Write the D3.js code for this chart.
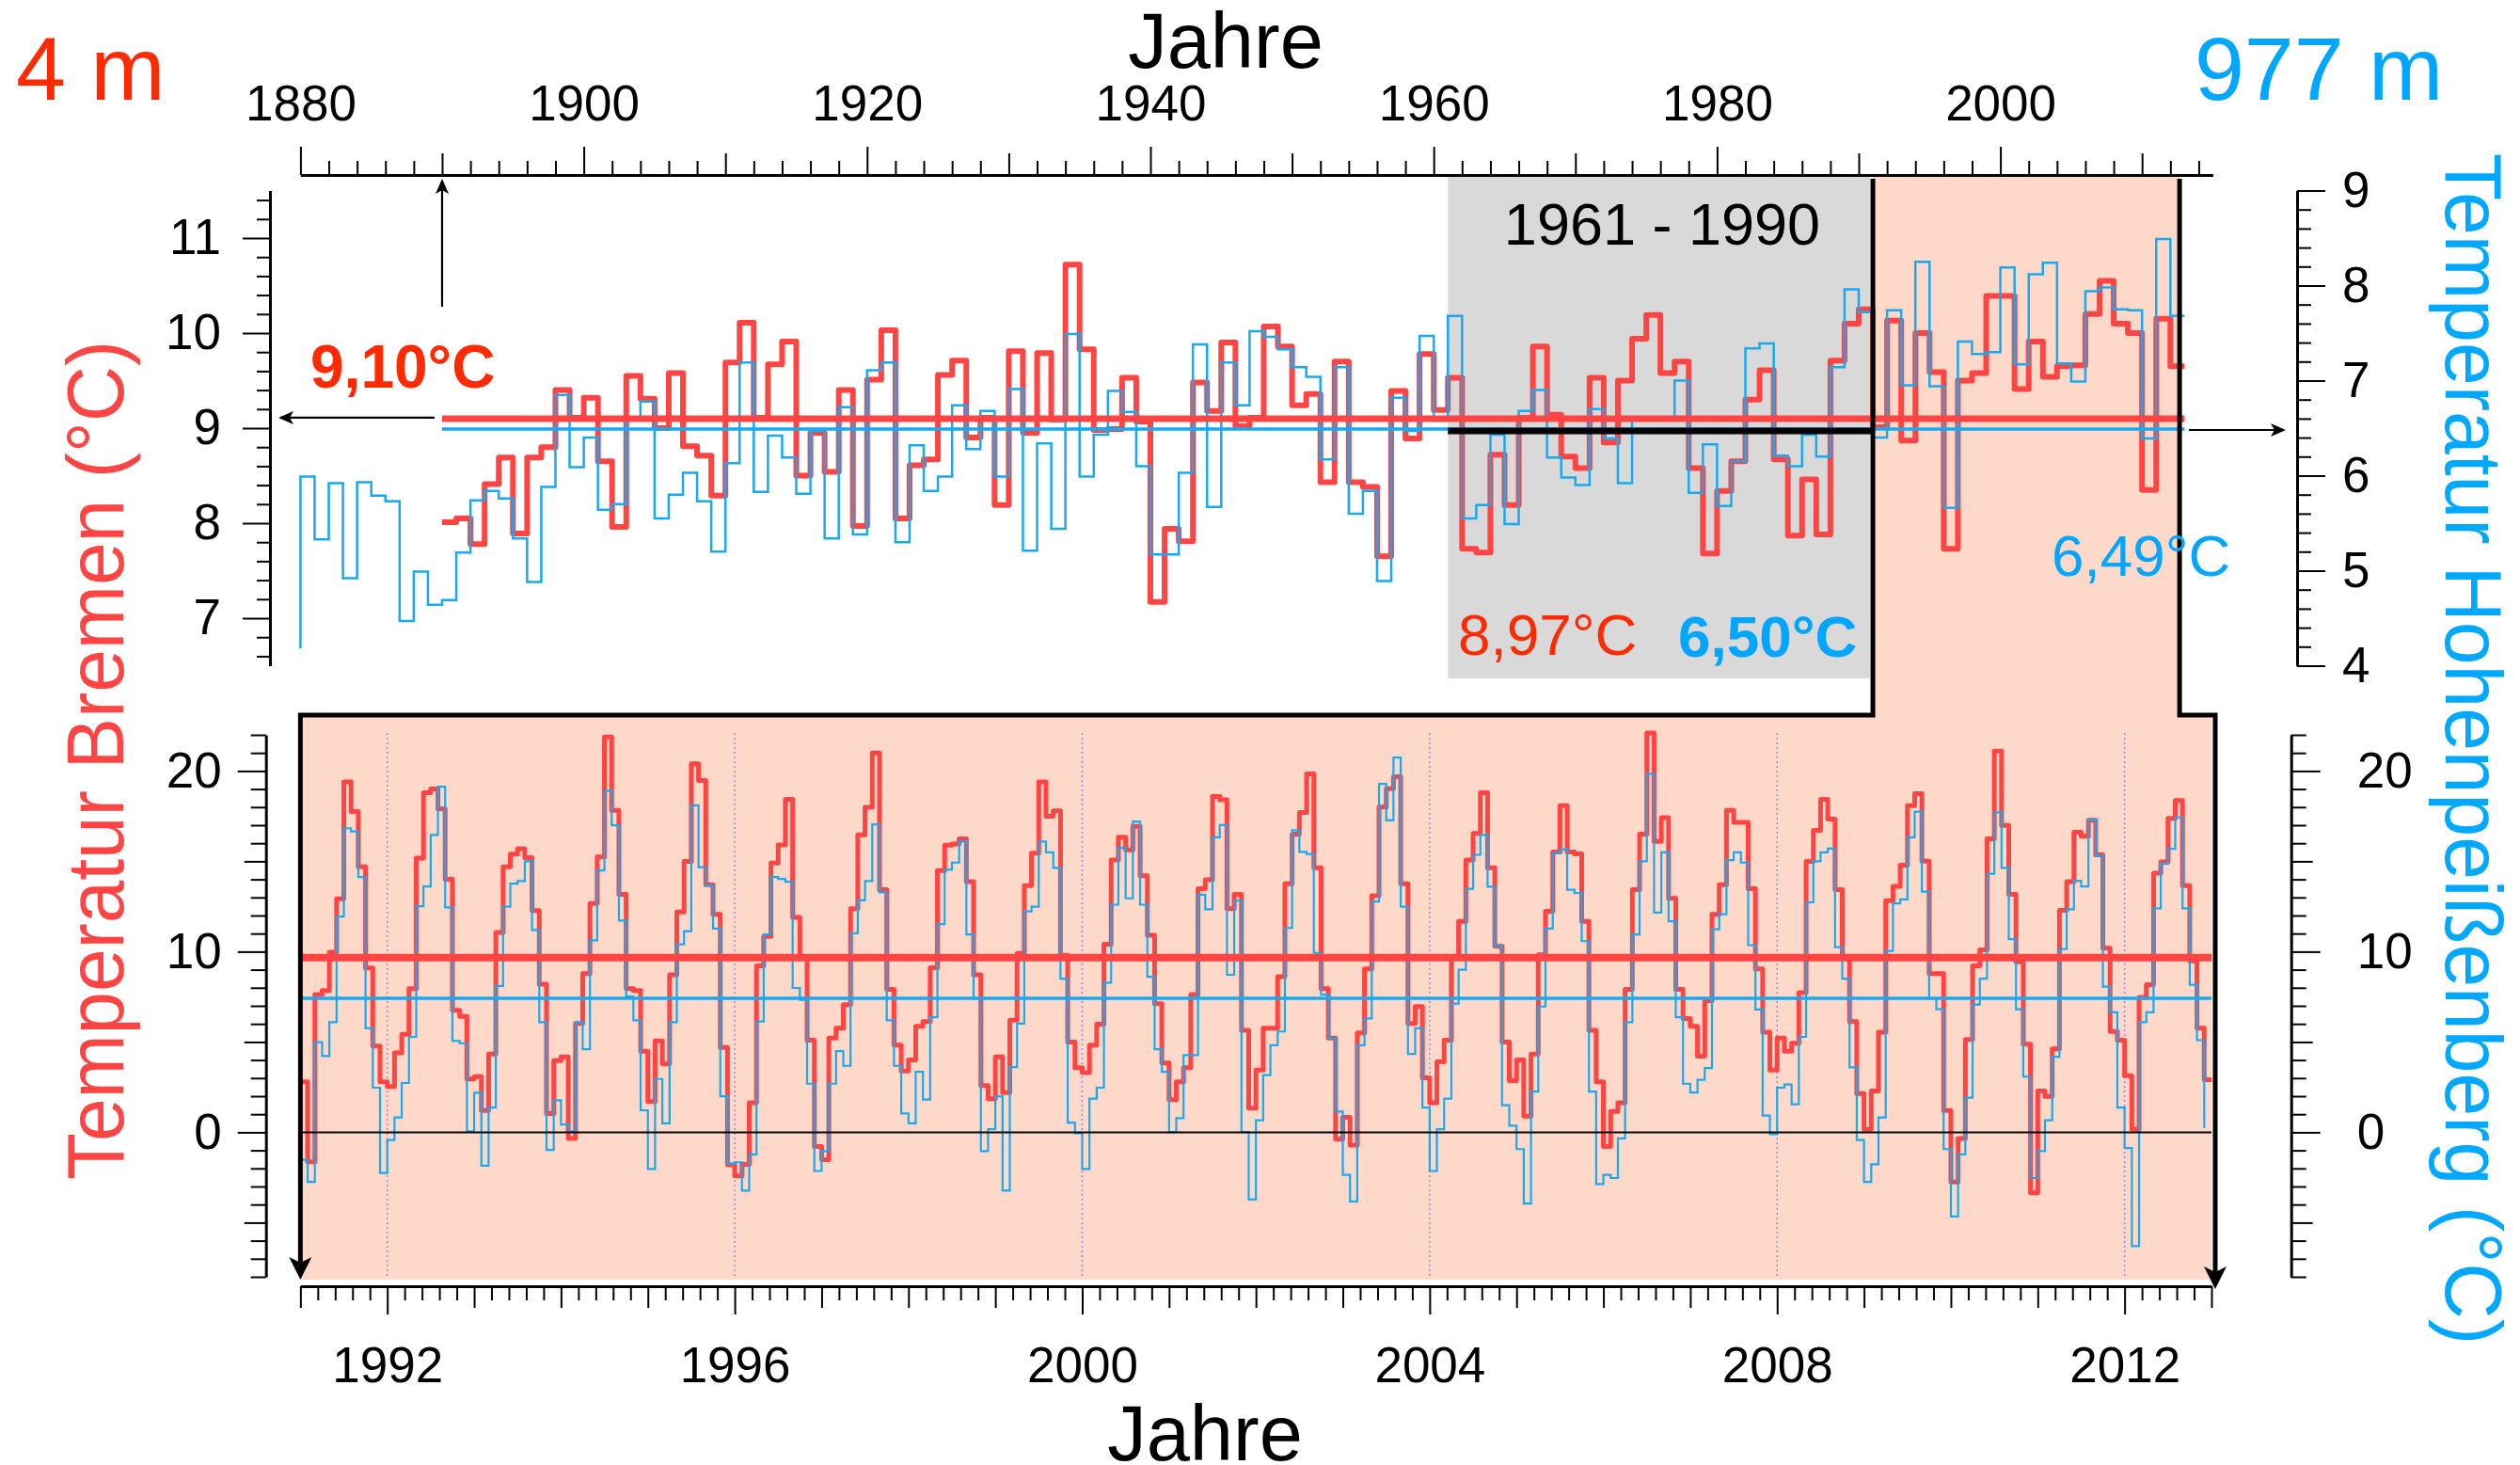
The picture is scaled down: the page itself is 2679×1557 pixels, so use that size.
<!DOCTYPE html>
<html>
<head>
<meta charset="utf-8">
<script src="https://cdn.jsdelivr.net/npm/d3@7"></script>
<style>
body { margin: 0; background: #fff; }
svg { display: block; font-family: "Liberation Sans", Arial, Helvetica, sans-serif; }
</style>
</head>
<body>
<svg id="chart" width="2679" height="1557"></svg>
<script>
// annual means, Bremen from 1890, Hohenpeissenberg from 1880
const bremenFirstYear = 1890;
const bremenAnnual = [
  8.01, 8.05, 7.78, 8.41, 8.69, 7.89, 8.69, 8.80, 9.40, 9.11,
  9.32, 8.65, 7.96, 9.55, 9.31, 9.00, 9.58, 8.81, 8.71, 8.29,
  9.69, 10.11, 9.11, 9.67, 9.91, 8.50, 8.95, 8.54, 9.40, 7.97,
  9.51, 10.03, 8.05, 8.61, 8.67, 9.56, 9.71, 8.90, 9.11, 8.19,
  9.81, 8.95, 9.79, 9.09, 10.72, 9.83, 8.98, 8.99, 9.53, 9.07,
  7.17, 7.94, 7.81, 9.48, 9.18, 9.90, 9.02, 9.11, 10.07, 9.86,
  9.24, 9.36, 8.43, 9.70, 8.43, 8.38, 7.65, 9.39, 8.89, 9.78,
  9.19, 9.53, 7.73, 7.69, 8.72, 8.19, 9.11, 9.86, 9.14, 8.70,
  8.58, 9.53, 8.85, 9.50, 9.94, 10.19, 9.58, 9.70, 8.58, 7.68,
  8.34, 8.65, 9.30, 9.61, 8.67, 7.87, 8.46, 7.88, 9.71, 10.10,
  10.25, 9.01, 10.13, 8.87, 10.00, 9.59, 7.73, 9.50, 9.58, 10.39,
  10.39, 9.41, 9.91, 9.54, 9.65, 9.66, 10.20, 10.55, 10.10, 10.00,
  8.35, 10.15, 9.65
];
const hohenFirstYear = 1880;
const hohenLead = 4.18;
const hohenAnnual = [
  5.99, 5.33, 5.92, 4.92, 5.93, 5.79, 5.73, 4.47, 4.99, 4.64,
  4.69, 5.19, 5.74, 5.84, 5.76, 5.34, 4.88, 5.88, 6.85, 6.09,
  6.40, 5.64, 5.70, 6.60, 6.78, 5.55, 5.80, 6.03, 5.73, 5.20,
  6.13, 7.19, 5.83, 6.42, 6.19, 5.81, 6.47, 5.34, 6.72, 5.38,
  7.11, 7.19, 5.30, 6.32, 5.84, 5.99, 6.74, 6.28, 6.68, 5.99,
  6.91, 5.21, 6.34, 5.44, 7.49, 5.99, 6.43, 6.89, 6.67, 6.10,
  5.17, 5.17, 6.03, 7.38, 5.67, 7.19, 6.74, 7.52, 7.46, 7.33,
  7.14, 7.04, 6.17, 7.14, 5.60, 5.84, 4.89, 6.82, 6.47, 7.47,
  6.58, 7.68, 5.55, 5.69, 6.43, 5.49, 6.68, 6.90, 6.19, 5.98,
  5.90, 6.70, 6.39, 5.92, 6.61, 6.61, 6.60, 7.00, 5.82, 6.33,
  5.68, 6.15, 7.34, 7.39, 6.21, 6.10, 6.43, 6.20, 7.14, 7.96,
  7.72, 6.40, 7.74, 6.95, 8.25, 6.94, 5.66, 7.41, 7.28, 7.30,
  8.19, 7.17, 8.12, 8.24, 7.18, 6.99, 7.94, 7.98, 7.75, 7.74,
  6.39, 8.49, 7.68
];

// monthly means 1991-2012
const monthFirstYear = 1991;
const bremenMonthly = [
  2.8, -1.63, 7.62, 7.84, 9.97, 12.93, 19.4, 17.76, 14.7, 9.1, 4.77, 2.8,
  2.54, 4.4, 5.43, 7.95, 15.18, 18.8, 19.0, 17.9, 14.0, 6.75, 6.42, 2.95,
  3.08, 1.2, 4.33, 11.06, 14.7, 15.4, 15.7, 15.2, 12.27, 8.2, 1.04, 3.96,
  4.18, -0.34, 6.02, 8.78, 12.67, 15.24, 21.88, 17.82, 13.17, 7.95, 7.84, 4.49,
  1.7, 5.06, 3.79, 8.72, 12.2, 15.0, 20.4, 19.47, 13.7, 12.07, 4.7, -1.8,
  -2.42, -1.77, 1.64, 9.22, 10.84, 14.9, 15.9, 18.43, 11.9, 9.7, 5.1, -0.78,
  -1.52, 5.21, 5.76, 7.07, 12.38, 16.46, 17.99, 21.0, 13.43, 7.91, 4.82, 3.39,
  4.0, 5.87, 6.13, 9.11, 14.49, 15.89, 15.96, 16.24, 13.87, 8.72, 2.58, 1.86,
  4.18, 2.2, 6.2, 9.9, 13.65, 15.45, 19.4, 17.5, 17.8, 9.8, 5.0, 3.57,
  3.3, 4.82, 5.98, 10.41, 15.07, 16.33, 15.63, 16.94, 14.2, 10.91, 7.12, 3.83,
  1.81, 2.8, 3.57, 7.62, 13.48, 13.98, 18.59, 18.41, 12.38, 13.17, 5.65, 1.33,
  3.45, 5.76, 5.76, 8.61, 13.76, 16.5, 17.7, 19.84, 14.64, 7.95, 5.21, -0.38,
  0.83, -0.71, 5.5, 9.05, 13.1, 18.0, 19.02, 19.68, 13.76, 6.02, 6.96, 3.02,
  1.64, 3.9, 5.1, 9.7, 11.68, 15.07, 16.55, 18.8, 14.64, 10.3, 4.99, 2.86,
  4.0, 0.89, 4.33, 9.82, 12.23, 15.52, 18.08, 15.52, 15.41, 11.68, 5.65, 2.8,
  -0.78, 1.15, 1.64, 7.91, 13.43, 16.5, 22.1, 16.1, 17.42, 12.95, 7.91, 6.3,
  5.87, 4.22, 7.29, 12.07, 13.7, 17.82, 17.16, 17.16, 13.48, 9.05, 5.54, 3.45,
  5.21, 4.49, 4.93, 7.73, 15.0, 16.72, 18.43, 17.34, 13.43, 9.66, 6.13, 2.14,
  0.17, 2.29, 5.54, 12.82, 13.61, 14.79, 18.08, 18.74, 15.01, 8.78, 8.78, 1.2,
  -2.75, -0.34, 5.14, 9.22, 10.1, 16.24, 21.1, 16.99, 13.17, 9.44, 4.88, -3.35,
  2.29, 1.99, 4.62, 12.29, 13.87, 16.61, 16.39, 17.27, 15.36, 10.19, 5.58, 5.1,
  3.13, 0.17, 7.47, 8.17, 14.35, 14.97, 17.38, 18.37, 13.65, 9.49, 5.76, 2.91
];
const hohenMonthly = [
  -1.52, -2.75, 4.99, 4.22, 6.09, 11.94, 16.83, 16.66, 14.13, 5.76, 2.47, -2.25,
  -0.43, 0.82, 2.73, 5.28, 12.51, 13.61, 16.46, 19.13, 12.45, 5.06, 4.93, 0.06,
  2.19, -1.85, 1.37, 8.1, 12.49, 13.76, 13.91, 15.0, 11.2, 6.09, -0.98, 1.77,
  0.43, 0.06, 6.09, 4.6, 10.63, 14.49, 18.91, 16.99, 11.72, 7.51, 6.2, 1.22,
  -2.03, 2.95, 0.5, 6.09, 10.41, 11.13, 18.1, 14.68, 13.65, 11.28, 1.99, -1.74,
  -1.66, -3.23, -1.22, 6.13, 10.95, 14.13, 14.02, 13.87, 7.99, 7.33, 2.69, -2.14,
  -1.04, 2.69, 4.49, 3.68, 11.02, 12.84, 13.91, 17.05, 13.28, 6.2, 3.68, 1.04,
  0.5, 3.35, 1.81, 6.37, 11.52, 14.53, 14.93, 16.1, 10.95, 7.4, -1.04, 0.17,
  1.99, -3.23, 3.61, 6.02, 12.23, 12.49, 16.1, 15.5, 14.64, 8.5, 0.54, -0.05,
  -2.03, 1.86, 2.47, 8.28, 12.6, 15.74, 12.95, 17.2, 12.6, 8.61, 4.6, 3.35,
  0.01, 0.78, 4.27, 4.27, 13.15, 12.34, 16.33, 17.01, 8.72, 12.82, 0.01, -3.72,
  0.67, 3.17, 4.82, 5.58, 11.31, 16.72, 15.52, 15.41, 9.93, 7.62, 5.21, 1.15,
  -2.36, -3.83, 4.82, 6.3, 12.77, 19.29, 17.27, 20.74, 12.49, 4.34, 5.76, 1.37,
  -2.14, 0.17, 1.86, 7.12, 9.0, 13.48, 15.36, 16.46, 13.6, 10.3, 1.5, 0.37,
  -0.93, -3.94, 2.25, 6.96, 11.28, 15.45, 15.67, 13.43, 13.25, 10.58, 2.25, -2.86,
  -2.36, -2.53, -0.34, 6.09, 10.95, 15.0, 19.84, 12.16, 15.5, 11.68, 6.37, 2.69,
  2.2, 2.9, 3.56, 11.24, 12.07, 15.07, 15.5, 14.93, 10.36, 6.8, 0.93, -0.1,
  2.47, 2.64, 1.55, 5.28, 12.73, 15.0, 15.5, 15.7, 10.25, 8.5, 3.6, -0.43,
  -2.75, -1.77, 0.82, 10.04, 12.67, 12.89, 16.33, 17.75, 13.32, 7.4, 6.81, -0.93,
  -4.66, -1.22, 1.92, 7.07, 8.5, 14.31, 17.71, 14.64, 10.69, 6.81, 3.08, -2.53,
  -1.04, 0.67, 4.18, 10.14, 12.34, 13.92, 13.61, 17.32, 15.3, 8.06, 6.64, 1.37,
  -0.87, -6.3, 6.09, 6.64, 12.4, 14.86, 15.69, 17.43, 12.4, 8.17, 5.1, 0.23
];

const bremenMean = 9.10, hohenMean = 6.49;
const bremenNormal = 8.97, hohenNormal = 6.50;
const bremenMeanRecent = 9.67, hohenMeanRecent = 7.42;
const normalPeriod = [1961, 1991];
const zoomPeriod = [1991, 2012.65];
const bottomMarkYears = [1992, 1996, 2000, 2004, 2008, 2012];

const red = "#ff4444", blue = "#18a9f0", redText = "#ff2a00", blueText = "#00a6ff";
const svg = d3.select("#chart");

const xTop = d3.scaleLinear().domain([1880, 2015]).range([319.4, 2352.5]);
const yBre = d3.scaleLinear().domain([6.5, 11.5]).range([707.5, 202.5]);
const yHoh = d3.scaleLinear().domain([4, 9]).range([707.5, 202.5]);
const xBot = d3.scaleLinear().domain([1991, 2013]).range([319.35, 2351]);
const yBot = d3.scaleLinear().domain([-8, 22]).range([1357, 781]);

const isInt = d => Math.abs(d - Math.round(d)) < 1e-6;

// arrow heads
const defs = svg.append("defs");
defs.append("marker").attr("id", "headBig")
  .attr("viewBox", "0 0 24 24").attr("refX", 14).attr("refY", 12)
  .attr("markerWidth", 24).attr("markerHeight", 24)
  .attr("markerUnits", "userSpaceOnUse").attr("orient", "auto-start-reverse")
  .append("path").attr("d", "M0,0 L24,12 L0,24 L6,12 Z").attr("fill", "#000");
defs.append("marker").attr("id", "headSmall")
  .attr("viewBox", "0 0 16 14").attr("refX", 14).attr("refY", 7)
  .attr("markerWidth", 16).attr("markerHeight", 14)
  .attr("markerUnits", "userSpaceOnUse").attr("orient", "auto")
  .append("path").attr("d", "M0,0 L16,7 L0,14 L4,7 Z").attr("fill", "#000");

// backgrounds
svg.append("rect")
  .attr("x", xTop(normalPeriod[0])).attr("y", 188)
  .attr("width", xTop(normalPeriod[1]) - xTop(normalPeriod[0]) - 3).attr("height", 533)
  .attr("fill", "#d9d9d9");
svg.append("rect")
  .attr("x", xTop(zoomPeriod[0])).attr("y", 188)
  .attr("width", xTop(zoomPeriod[1]) - xTop(zoomPeriod[0])).attr("height", 572)
  .attr("fill", "#fed9c9");
svg.append("rect")
  .attr("x", xBot(1991)).attr("y", 760)
  .attr("width", xBot(2013) - xBot(1991)).attr("height", 600)
  .attr("fill", "#fed9c9");

// dotted year marks in lower panel
svg.append("g").selectAll("line").data(bottomMarkYears).enter().append("line")
  .attr("x1", d => xBot(d)).attr("x2", d => xBot(d))
  .attr("y1", 779).attr("y2", 1357)
  .attr("stroke", "#9a88f0").attr("stroke-width", 1.5).attr("stroke-dasharray", "2,3");

// step lines
const stepLine = (x, y) => d3.line().x(d => x(d[0])).y(d => y(d[1])).curve(d3.curveStepAfter);

const brePts = bremenAnnual.map((v, i) => [bremenFirstYear + i, v]);
brePts.push([bremenFirstYear + bremenAnnual.length, bremenAnnual[bremenAnnual.length - 1]]);
const hohPts = [[hohenFirstYear, hohenLead]].concat(hohenAnnual.map((v, i) => [hohenFirstYear + i, v]));
hohPts.push([hohenFirstYear + hohenAnnual.length, hohenAnnual[hohenAnnual.length - 1]]);

svg.append("path").datum(brePts).attr("d", stepLine(xTop, yBre))
  .attr("fill", "none").attr("stroke", red).attr("stroke-width", 6).attr("stroke-linejoin", "round");
svg.append("path").datum(hohPts).attr("d", stepLine(xTop, yHoh))
  .attr("fill", "none").attr("stroke", blue).attr("stroke-width", 2.5);

const breM = bremenMonthly.map((v, i) => [monthFirstYear + i / 12, v]);
breM.push([monthFirstYear + bremenMonthly.length / 12, bremenMonthly[bremenMonthly.length - 1]]);
const hohM = hohenMonthly.map((v, i) => [monthFirstYear + i / 12, v]);

svg.append("path").datum(breM).attr("d", stepLine(xBot, yBot))
  .attr("fill", "none").attr("stroke", red).attr("stroke-width", 5).attr("stroke-linejoin", "round");
svg.append("path").datum(hohM).attr("d", stepLine(xBot, yBot))
  .attr("fill", "none").attr("stroke", blue).attr("stroke-width", 2.2);

// mean lines
const endYear = bremenFirstYear + bremenAnnual.length;
const hline = (x, y, a, b, v, color, w) => svg.append("line")
  .attr("x1", x(a)).attr("x2", x(b)).attr("y1", y(v)).attr("y2", y(v))
  .attr("stroke", color).attr("stroke-width", w);
hline(xTop, yBre, bremenFirstYear, endYear, bremenMean, red, 7);
hline(xTop, yHoh, bremenFirstYear, endYear, hohenMean, blue, 3.5);
hline(xTop, yBre, normalPeriod[0], normalPeriod[1], bremenNormal, "#000", 7);
hline(xBot, yBot, 1991, 2013, bremenMeanRecent, red, 8);
hline(xBot, yBot, 1991, 2013, hohenMeanRecent, blue, 3.5);
hline(xBot, yBot, 1991, 2013, 0, "#000", 2);

// zoom outline
svg.append("path")
  .attr("d", `M${xBot(1991)},1350 V760 H${xTop(zoomPeriod[0])} V190`)
  .attr("fill", "none").attr("stroke", "#000").attr("stroke-width", 5)
  .attr("marker-start", "url(#headBig)");
svg.append("path")
  .attr("d", `M${xTop(zoomPeriod[1])},190 V760 H${xBot(2013) + 4} V1360`)
  .attr("fill", "none").attr("stroke", "#000").attr("stroke-width", 5)
  .attr("marker-end", "url(#headBig)");

// small arrows
const arrow = (x1, y1, x2, y2) => svg.append("line")
  .attr("x1", x1).attr("y1", y1).attr("x2", x2).attr("y2", y2)
  .attr("stroke", "#000").attr("stroke-width", 2.2).attr("marker-end", "url(#headSmall)");
arrow(xTop(bremenFirstYear), 326, xTop(bremenFirstYear), 192);
arrow(462, yBre(bremenMean) - 1, 298, yBre(bremenMean) - 1);
arrow(2327, yHoh(hohenMean) + 1, 2428, yHoh(hohenMean) + 1);

// axes
function styleAxis(g, size) {
  g.attr("font-family", null).attr("font-size", null);
  g.select(".domain").attr("stroke-width", 3);
  g.selectAll(".tick line").attr("stroke-width", 2);
  g.selectAll(".tick text").attr("font-size", size).attr("fill", "#000");
}

const gTop = svg.append("g").attr("transform", "translate(0,186)")
  .call(d3.axisTop(xTop).tickValues(d3.range(1880, 2015, 2))
    .tickFormat(d => d % 20 === 0 ? d : "").tickSizeOuter(0));
styleAxis(gTop, 53);
gTop.selectAll(".tick line").attr("y2", d => d % 20 === 0 ? -30 : d % 10 === 0 ? -23 : -15);
gTop.selectAll(".tick text").attr("y", -58).attr("dy", 0);

const gLT = svg.append("g").attr("transform", "translate(287,0)")
  .call(d3.axisLeft(yBre).tickValues(d3.range(33, 58).map(d => d / 5))
    .tickFormat(d => isInt(d) ? d : "").tickSizeOuter(0));
styleAxis(gLT, 53);
gLT.selectAll(".tick line").attr("x2", d => isInt(d) ? -29 : -14);
gLT.selectAll(".tick text").attr("x", -52);

const gRT = svg.append("g").attr("transform", "translate(2442,0)")
  .call(d3.axisRight(yHoh).tickValues(d3.range(20, 46).map(d => d / 5))
    .tickFormat(d => isInt(d) ? d : "").tickSizeOuter(0));
styleAxis(gRT, 53);
gRT.selectAll(".tick line").attr("x2", d => isInt(d) ? 30 : 15);
gRT.selectAll(".tick text").attr("x", 48);

const gLB = svg.append("g").attr("transform", "translate(282.7,0)")
  .call(d3.axisLeft(yBot).tickValues(d3.range(-8, 23))
    .tickFormat(d => d % 10 === 0 ? d : "").tickSizeOuter(0));
styleAxis(gLB, 53);
gLB.selectAll(".tick line").attr("x2", d => d % 10 === 0 ? -30 : d % 5 === 0 ? -23 : -16);
gLB.selectAll(".tick text").attr("x", -47);

const gRB = svg.append("g").attr("transform", "translate(2435.7,0)")
  .call(d3.axisRight(yBot).tickValues(d3.range(-8, 23))
    .tickFormat(d => d % 10 === 0 ? d : "").tickSizeOuter(0));
styleAxis(gRB, 53);
gRB.selectAll(".tick line").attr("x2", d => d % 10 === 0 ? 31 : d % 5 === 0 ? 23 : 16);
gRB.selectAll(".tick text").attr("x", 70);

const gB = svg.append("g").attr("transform", "translate(0,1367)")
  .call(d3.axisBottom(xBot).tickValues(d3.range(0, 111).map(i => 1991 + i / 5))
    .tickFormat(d => isInt(d) && Math.round(d) % 4 === 0 ? Math.round(d) : "").tickSizeOuter(0));
styleAxis(gB, 53);
gB.selectAll(".tick line").attr("y2", d => isInt(d) ? (Math.round(d) % 4 === 0 ? 30 : 23) : 15);
gB.selectAll(".tick text").attr("y", 102).attr("dy", 0);

// texts
const label = (x, y, txt, size, color, opts = {}) => {
  const t = svg.append("text").attr("x", x).attr("y", y).text(txt)
    .attr("font-size", size).attr("fill", color)
    .attr("text-anchor", opts.anchor || "start")
    .attr("font-weight", opts.bold ? "bold" : null);
  if (opts.rotate) t.attr("transform", `rotate(${opts.rotate},${x},${y})`);
  if (opts.len) t.attr("textLength", opts.len).attr("lengthAdjust", "spacingAndGlyphs");
  return t;
};
label(1303, 72, "Jahre", 83, "#000", { anchor: "middle" });
label(1281, 1552, "Jahre", 83, "#000", { anchor: "middle" });
label(17, 106, "4 m", 95, redText);
label(2333, 106, "977 m", 95, blueText);
label(131, 808, "Temperatur Bremen (°C)", 85, red, { anchor: "middle", rotate: -90, len: 892 });
label(2600, 796, "Temperatur Hohenpeißenberg (°C)", 86, "#00a8ff", { anchor: "middle", rotate: 90, len: 1266 });
label(330, 412, "9,10°C", 64, redText, { bold: true });
label(1767, 260, "1961 - 1990", 63, "#000", { anchor: "middle" });
label(1550, 696, "8,97°C", 62, redText);
label(1784, 698, "6,50°C", 62, blueText, { bold: true });
label(2181, 612, "6,49°C", 62, blueText);
</script>
</body>
</html>
